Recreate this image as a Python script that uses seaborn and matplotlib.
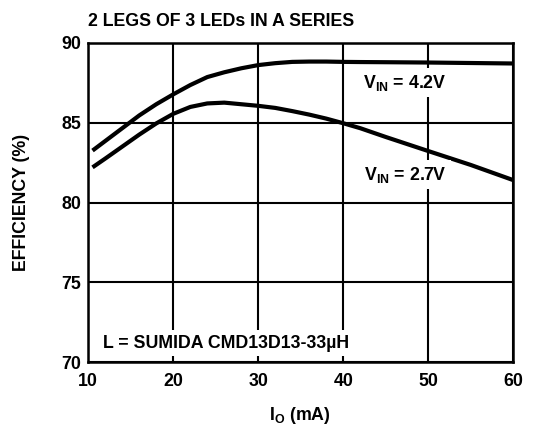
import pandas as pd
import seaborn as sns
import matplotlib.pyplot as plt

# Efficiency curves
io_ma = [10.5, 12, 14, 16, 18, 20, 22, 24, 26, 28, 30, 32, 34, 36, 38, 40, 42, 45, 50, 55, 60]
eff_4v2 = [83.25, 83.85, 84.65, 85.45, 86.15, 86.77, 87.35, 87.85, 88.15, 88.4, 88.6,
           88.72, 88.8, 88.82, 88.82, 88.8, 88.79, 88.78, 88.76, 88.73, 88.7]
eff_2v7 = [82.2, 82.75, 83.5, 84.25, 84.95, 85.55, 85.98, 86.2, 86.25, 86.15, 86.05,
           85.92, 85.72, 85.5, 85.25, 84.96, 84.65, 84.1, 83.22, 82.35, 81.4]

x_ticks = [10, 20, 30, 40, 50, 60]
y_ticks = [70, 75, 80, 85, 90]

df = pd.DataFrame({
    'io': io_ma * 2,
    'eff': eff_4v2 + eff_2v7,
    'vin': ['4.2V'] * len(io_ma) + ['2.7V'] * len(io_ma),
})

sns.set_style('white')
plt.rcParams['font.family'] = ['Liberation Sans', 'DejaVu Sans']
plt.rcParams['font.weight'] = 'bold'
plt.rcParams['text.color'] = 'black'
plt.rcParams['axes.labelcolor'] = 'black'
plt.rcParams['xtick.color'] = 'black'
plt.rcParams['ytick.color'] = 'black'
plt.rcParams['mathtext.fontset'] = 'custom'
plt.rcParams['mathtext.rm'] = 'Liberation Sans:bold'
plt.rcParams['mathtext.it'] = 'Liberation Sans:bold'
plt.rcParams['mathtext.bf'] = 'Liberation Sans:bold'
plt.rcParams['mathtext.default'] = 'bf'

fs = 12.8

fig = plt.figure(figsize=(5.35, 4.28), dpi=100)
ax = fig.add_axes([0.165, 0.1535, 0.7944, 0.7467])

sns.lineplot(data=df, x='io', y='eff', hue='vin', palette={'4.2V': 'black', '2.7V': 'black'},
             linewidth=3, legend=False, ax=ax, zorder=3)
for line in ax.lines:
    line.set_solid_capstyle('butt')

ax.set_xlim(10, 60)
ax.set_ylim(70, 90)
ax.set_xticks(x_ticks)
ax.set_yticks(y_ticks)
ax.grid(True, color='black', linewidth=1.5)
ax.set_axisbelow(True)
for s in ax.spines.values():
    s.set_color('black')
    s.set_linewidth(1.8)
ax.tick_params(length=0, labelsize=fs, labelcolor='black')
ax.tick_params(axis='x', pad=8)
ax.tick_params(axis='y', pad=5)

ax.set_xlabel('I$_{O}$ (mA)', fontsize=fs, fontweight='bold')
ax.set_ylabel('EFFICIENCY (%)', fontsize=fs, fontweight='bold')
ax.xaxis.set_label_coords(0.498, -0.135)
ax.yaxis.set_label_coords(-0.137, 0.5)

fig.text(0.165, 1 - 26.5 / 428, '2 LEGS OF 3 LEDs IN A SERIES', fontsize=fs,
         fontweight='bold', va='baseline', ha='left')

box = dict(boxstyle='square,pad=0.25', facecolor='white', edgecolor='none')
ax.text(47.26, 87.17, 'V$_{IN}$ = 4.2V', fontsize=fs, fontweight='bold',
        ha='center', va='baseline', bbox=box, zorder=4)
ax.text(47.26, 81.42, 'V$_{IN}$ = 2.7V', fontsize=fs, fontweight='bold',
        ha='center', va='baseline', bbox=box, zorder=4)
ax.text(11.73, 70.9, 'L = SUMIDA CMD13D13-33µH', fontsize=fs, fontweight='bold',
        ha='left', va='baseline', bbox=box, zorder=4)

plt.savefig('out.png', dpi=100)
